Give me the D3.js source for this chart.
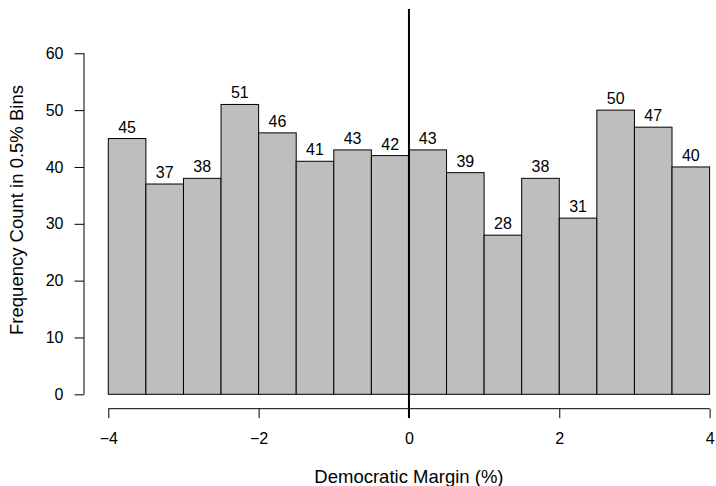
<!DOCTYPE html>
<html>
<head>
<meta charset="utf-8">
<script src="https://cdn.jsdelivr.net/npm/d3@7/dist/d3.min.js"></script>
<style>
  html, body { margin: 0; padding: 0; background: #fff; }
  svg { display: block; font-family: "Liberation Sans", Arial, sans-serif; }
</style>
</head>
<body>
<svg id="chart" width="716" height="486"></svg>
<script>
// Histogram of Democratic margin, 0.5% bins from -4 to 4
const binStarts = [-4, -3.5, -3, -2.5, -2, -1.5, -1, -0.5, 0, 0.5, 1, 1.5, 2, 2.5, 3, 3.5];
const binWidth = 0.5;
const counts = [45, 37, 38, 51, 46, 41, 43, 42, 43, 39, 28, 38, 31, 50, 47, 40];
const xTicks = [-4, -2, 0, 2, 4];
const yTicks = [0, 10, 20, 30, 40, 50, 60];

const FONT = "Liberation Sans, Arial, sans-serif";
const svg = d3.select("#chart");

const x = d3.scaleLinear().domain([-4, 4]).range([108.3, 709.6]);
const y = d3.scaleLinear().domain([0, 60]).range([394.3, 53.3]);

const bins = binStarts.map((s, i) => ({ s, c: counts[i] }));

// Bars
svg.append("g").selectAll("rect")
  .data(bins)
  .join("rect")
  .attr("x", d => x(d.s))
  .attr("y", d => y(d.c))
  .attr("width", d => x(d.s + binWidth) - x(d.s))
  .attr("height", d => y(0) - y(d.c))
  .attr("fill", "#bebebe")
  .attr("stroke", "#000")
  .attr("stroke-width", 1);

// Count labels above bars
svg.append("g").selectAll("text")
  .data(bins)
  .join("text")
  .attr("x", d => x(d.s + binWidth / 2))
  .attr("y", d => y(d.c) - 6)
  .attr("text-anchor", "middle")
  .attr("font-size", 16)
  .text(d => d.c);

// Y axis
const yAxis = d3.axisLeft(y)
  .tickValues(yTicks)
  .tickSize(9.5)
  .tickPadding(11)
  .tickFormat(d3.format("d"));
const gy = svg.append("g").attr("transform", "translate(84,0)").call(yAxis);
gy.select(".domain").attr("d", `M0,${y(0)}V${y(60)}`);
gy.selectAll("text").attr("font-size", 16).attr("font-family", FONT).attr("fill", "#000");
gy.selectAll("line, path").attr("stroke", "#000");

// X axis
const xAxis = d3.axisBottom(x)
  .tickValues(xTicks)
  .tickSize(9.5)
  .tickFormat(d => d < 0 ? "\u2212" + Math.abs(d) : String(d));
const gx = svg.append("g").attr("transform", "translate(0,408.7)").call(xAxis);
gx.select(".domain").attr("d", `M${x(-4)},0H${x(4)}`);
gx.selectAll("text")
  .attr("y", 35)
  .attr("dy", 0)
  .attr("font-size", 16)
  .attr("font-family", FONT)
  .attr("fill", "#000");
gx.selectAll("line, path").attr("stroke", "#000");

// Reference line at zero margin
svg.append("line")
  .attr("x1", x(0)).attr("x2", x(0))
  .attr("y1", 9).attr("y2", 418)
  .attr("stroke", "#000")
  .attr("stroke-width", 2);

// Axis titles
svg.append("text")
  .attr("x", x(0))
  .attr("y", 483)
  .attr("text-anchor", "middle")
  .attr("font-size", 18.5)
  .text("Democratic Margin (%)");

svg.append("text")
  .attr("transform", `translate(23,210) rotate(-90)`)
  .attr("text-anchor", "middle")
  .attr("font-size", 18.5)
  .text("Frequency Count in 0.5% Bins");
</script>
</body>
</html>
